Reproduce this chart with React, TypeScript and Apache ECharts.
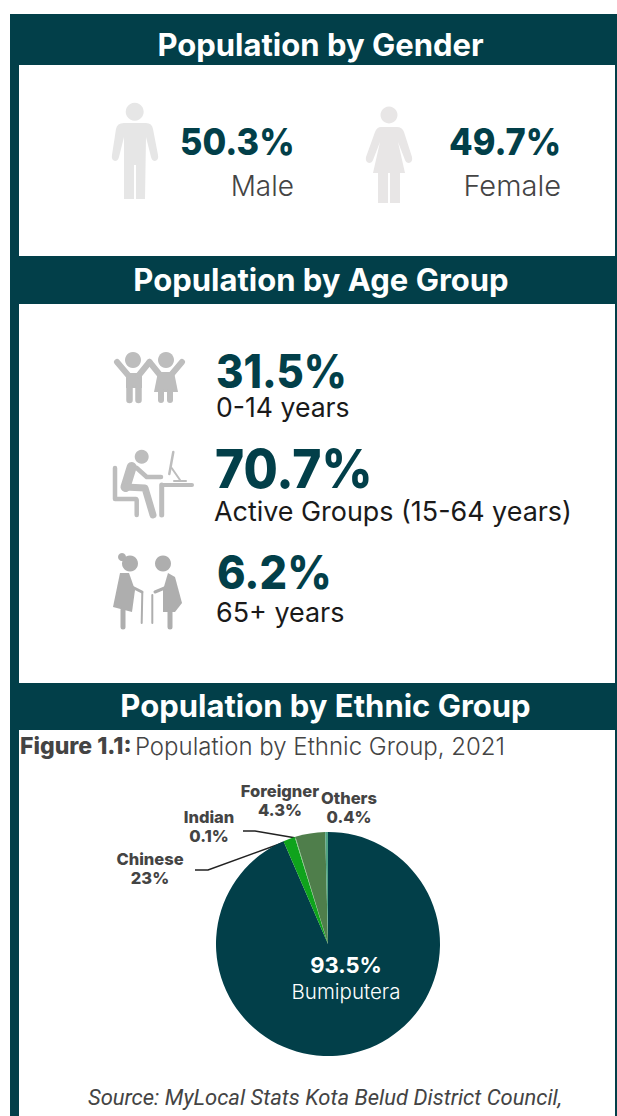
import React, { useEffect, useRef } from "react";
import * as echarts from "echarts";

const ethnicNames = ["Bumiputera", "Chinese", "Indian", "Foreigner", "Others"];
const ethnicValues = [93.5, 1.7, 0.1, 4.3, 0.4];
const ethnicPrinted = ["93.5%", "23%", "0.1%", "4.3%", "0.4%"];
const ethnicColors = ["#023f49", "#0fa31c", "#7ccf7f", "#4f7e4b", "#4fa384"];

const genderStats = [
  { value: "50.3%", label: "Male" },
  { value: "49.7%", label: "Female" },
];
const ageStats = [
  { value: "31.5%", label: "0-14 years" },
  { value: "70.7%", label: "Active Groups (15-64 years)" },
  { value: "6.2%", label: "65+ years" },
];

const DARK = "#023f49";
const FONT = "Inter";

const labelPlace: Record<string, { x: number; y: number; line?: number[][] }> = {
  Bumiputera: { x: 346, y: 976 },
  Chinese: { x: 150, y: 868, line: [[195, 870], [208, 870], [285, 842]] },
  Indian: { x: 209, y: 826, line: [[243, 831], [255, 831], [296, 838]] },
  Foreigner: { x: 280, y: 800 },
  Others: { x: 349, y: 807 },
};

const txt = (text: string, x: number, y: number, size: number, weight: any, fill: string, align = "left", scaleX = 1) => ({
  type: "text",
  x,
  y,
  scaleX,
  style: { text, x: 0, y: 0, fontSize: size, fontWeight: weight, fontFamily: FONT, fill, align, verticalAlign: "middle" },
});
const rect = (x: number, y: number, width: number, height: number, fill: string) => ({
  type: "rect", shape: { x, y, width, height }, style: { fill },
});
const circle = (cx: number, cy: number, r: number, fill: string) => ({
  type: "circle", shape: { cx, cy, r }, style: { fill },
});
const limb = (points: number[][], lineWidth: number, stroke: string, lineCap = "round") => ({
  type: "polyline", shape: { points }, style: { stroke, lineWidth, lineCap, lineJoin: "round", fill: "none" },
});
const poly = (points: number[][], fill: string) => ({
  type: "polygon", shape: { points }, style: { fill },
});

const MALE = "M124 123H146Q152 123 153 129L158 155Q159 160 155 161Q152 161 151 157L146 137L145 199H136V165H134V199H124L124 137L119 157Q118 161 115 161Q111 160 112 155L116 129Q117 123 124 123Z";
const FEMALE = "M381 127H397Q402 127 404 132L412 157Q413 162 409 163Q406 163 405 160L398 142L405 173H400V203H390V173H388V203H378V173H373L380 142L373 160Q372 163 369 163Q365 162 366 157L375 132Q377 127 381 127Z";

const children = (c: string) => [
  circle(133, 360, 8, c),
  circle(166, 360, 8, c),
  rect(126, 373, 16, 15, c),
  limb([[129.5, 385], [129.5, 400]], 6.5, c),
  limb([[138.5, 385], [138.5, 400]], 6.5, c),
  limb([[117, 362], [128, 375]], 6, c),
  limb([[149.5, 362], [139, 375]], 6, c),
  limb([[149.5, 362], [160, 375]], 6, c),
  limb([[182, 362], [171, 375]], 6, c),
  poly([[158, 372], [174, 372], [178, 392], [154, 392]], c),
  limb([[161, 390], [161, 400]], 6, c),
  limb([[170, 390], [170, 400]], 6, c),
];
const worker = (c: string) => [
  circle(141.7, 456.7, 7, c),
  limb([[115, 468], [115, 499], [136, 499]], 4.5, c),
  limb([[136.7, 500], [136.7, 515]], 4.5, c),
  limb([[131.7, 467], [125.5, 487]], 10, c),
  limb([[136.7, 468], [146.7, 477], [161, 477]], 4.5, c),
  limb([[125, 487], [145, 488], [153, 515]], 7, c),
  limb([[163.5, 485], [192, 485]], 4, c),
  limb([[161.7, 485], [161.7, 515]], 5, c),
  limb([[173.3, 452], [169.3, 474]], 2.5, c),
  limb([[171.7, 468], [180, 480]], 2, c),
  limb([[174, 481], [186, 481]], 2, c),
];
const elders = (c: string) => [
  circle(122, 557, 4, c),
  circle(130, 563.5, 8, c),
  poly([[120, 573], [129, 573], [135, 590], [132, 612], [113, 607]], c),
  limb([[123, 610], [123, 627]], 5, c),
  limb([[132, 587], [142, 592]], 3, c),
  limb([[142.3, 593], [141.7, 623]], 2, c),
  circle(163, 563.5, 8, c),
  poly([[168, 573], [175, 577], [182, 603], [175, 612], [163, 612], [163, 590]], c),
  limb([[170, 610], [170, 627]], 5, c),
  limb([[167, 587], [155, 592]], 3, c),
  limb([[152.3, 595], [152.3, 623]], 2, c),
];

export default function App() {
  const ref = useRef<HTMLDivElement>(null);
  useEffect(() => {
    if (!ref.current) return;
    echarts.graphic.registerShape("maleIcon", echarts.graphic.extendPath(MALE, {}) as any);
    echarts.graphic.registerShape("femaleIcon", echarts.graphic.extendPath(FEMALE, {}) as any);
    const chart = echarts.init(ref.current, undefined, { renderer: "svg" });
    const elements: any[] = [
      rect(0, 0, 617, 1116, "#ffffff"),
      rect(10, 14, 607, 1102, DARK),
      rect(19, 65, 596, 191, "#ffffff"),
      rect(19, 304, 596, 379, "#ffffff"),
      rect(19, 730, 596, 386, "#ffffff"),
      txt("Population by Gender", 320.5, 44, 31, 700, "#ffffff", "center"),
      txt("Population by Age Group", 321, 279, 31, 700, "#ffffff", "center"),
      txt("Population by Ethnic Group", 325.5, 705, 31, 700, "#ffffff", "center"),
      circle(134.7, 111.7, 9, "#e6e6e6"),
      { type: "maleIcon", x: 0, y: 0, style: { fill: "#e6e6e6" } },
      circle(389, 115, 8.5, "#e8e6e6"),
      { type: "femaleIcon", x: 0, y: 0, style: { fill: "#e8e6e6" } },
      txt(genderStats[0].value, 180, 142, 37, 800, DARK, "left", 0.93),
      txt(genderStats[0].label, 294, 186, 28, 300, "#444444", "right"),
      txt(genderStats[1].value, 449, 142, 37, 800, DARK, "left", 0.93),
      txt(genderStats[1].label, 561, 185.5, 29, 300, "#444444", "right"),
      ...children("#bdbdbd"),
      ...worker("#bdbdbd"),
      ...elders("#aeaeae"),
      txt(ageStats[0].value, 216, 371, 46, 800, DARK, "left", 0.91),
      txt(ageStats[0].label, 216, 407, 26.6, 400, "#1a1a1a"),
      txt(ageStats[1].value, 215, 469, 54, 800, DARK, "left", 0.92),
      txt(ageStats[1].label, 214, 510.5, 26.9, 400, "#1a1a1a"),
      txt(ageStats[2].value, 217, 573, 46, 800, DARK, "left", 0.94),
      txt(ageStats[2].label, 216, 612, 26.9, 400, "#1a1a1a"),
      {
        type: "text",
        style: {
          text: "{b|Figure 1.1:} {r|Population by Ethnic Group, 2021}",
          x: 20, y: 746, verticalAlign: "middle",
          rich: {
            b: { fontFamily: FONT, fontSize: 23, fontWeight: 800, fill: "#444444" },
            r: { fontFamily: FONT, fontSize: 24, fontWeight: 300, fill: "#444444" },
          },
        },
      },
      {
        type: "text",
        style: {
          text: "Source: MyLocal Stats Kota Belud District Council,",
          x: 325, y: 1097, align: "center", verticalAlign: "middle",
          fontFamily: "Roboto", fontStyle: "italic", fontSize: 22, fontWeight: 400, fill: "#444444",
        },
      },
    ];
    chart.setOption({
      animation: false,
      graphic: { elements },
      series: [
        {
          type: "pie",
          center: [328, 944],
          radius: [0, 112],
          startAngle: 90,
          clockwise: true,
          silent: true,
          minShowLabelAngle: 0,
          avoidLabelOverlap: false,
          data: ethnicNames.map((name, i) => ({
            name,
            value: ethnicValues[i],
            itemStyle: { color: ethnicColors[i] },
            labelLine: { show: !!labelPlace[name].line },
            label: i === 0
              ? { formatter: `{v|${ethnicPrinted[i]}}\n{n|${name}}` }
              : { formatter: `{a|${name}}\n{a|${ethnicPrinted[i]}}` },
          })),
          label: {
            show: true,
            position: "outside",
            rich: {
              a: { fontFamily: FONT, fontSize: 16.5, fontWeight: 800, color: "#444444", lineHeight: 19, align: "center" },
              v: { fontFamily: FONT, fontSize: 22, fontWeight: 700, color: "#ffffff", lineHeight: 30, align: "center" },
              n: { fontFamily: FONT, fontSize: 20.5, fontWeight: 300, color: "#ffffff", lineHeight: 22, align: "center" },
            },
          },
          labelLine: { show: true, lineStyle: { color: "#222222", width: 1.5 } },
          labelLayout: (p: any) => {
            const place = labelPlace[ethnicNames[p.dataIndex]];
            return {
              x: place.x, y: place.y, align: "center", verticalAlign: "middle", hideOverlap: false,
              ...(place.line ? { labelLinePoints: place.line } : {}),
            };
          },
        },
      ],
    });
    return () => chart.dispose();
  }, []);
  return <div ref={ref} style={{ position: "absolute", left: 0, top: 0, width: 617, height: 1116 }} />;
}
